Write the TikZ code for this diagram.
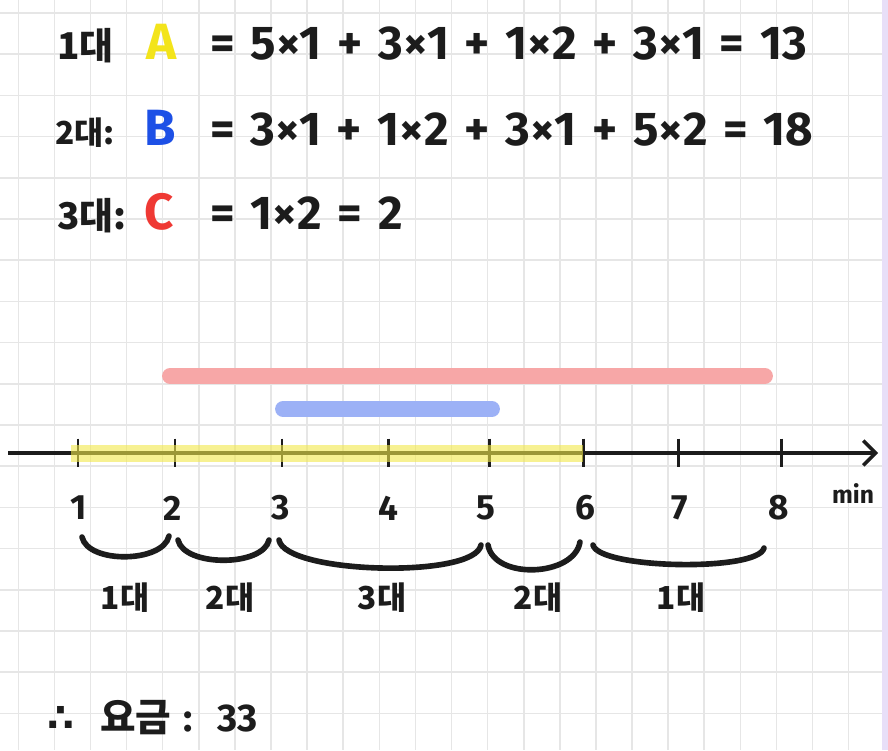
\documentclass[tikz,border=0pt]{standalone}
\usepackage{fontspec}
\usepackage{tikz}
\usetikzlibrary{arrows.meta,positioning,calc}
\setmainfont{Fira Sans}
\newfontfamily\krfont{Noto Sans CJK KR}
\newfontfamily\symfont{DejaVu Sans}
\definecolor{gridln}{HTML}{E6E6E6}
\definecolor{pagerim}{HTML}{E8DFF8}
\definecolor{ink}{HTML}{1C1C1C}
\definecolor{penA}{HTML}{F3E41B}
\definecolor{penB}{HTML}{1D50E6}
\definecolor{penC}{HTML}{EF3934}
\definecolor{barC}{HTML}{F7A7A7}
\definecolor{barB}{HTML}{9CB1F6}
\definecolor{barA}{HTML}{F2E94A}
\newcommand{\kr}[1]{{\krfont\bfseries #1}}
\newcommand{\widesp}{\spaceskip=9pt plus 2pt\relax}

\begin{document}
\begin{tikzpicture}[x=0.02cm,y=-0.02cm,
    eqtext/.style={text=ink,font=\fontsize{27}{30}\selectfont\bfseries\widesp,inner sep=0pt,anchor=base west},
    rowlbl/.style={text=ink,font=\fontsize{21}{24}\selectfont\krfont\bfseries,inner sep=0pt,anchor=base west},
    rowkey/.style={font=\fontsize{29}{32}\selectfont\bfseries,inner sep=0pt,anchor=base west},
    numlbl/.style={text=ink,font=\fontsize{20}{22}\selectfont\bfseries,inner sep=0pt},
    spanlbl/.style={text=ink,font=\fontsize{18}{22}\selectfont\krfont\bfseries,inner sep=0pt},
    sumlbl/.style={text=ink,font=\fontsize{22}{24}\selectfont\bfseries,inner sep=0pt,anchor=base west},
    tickmark/.style={minimum height=16pt,minimum width=0pt,inner sep=0pt},
    tick/.style={draw=ink,line width=1.7pt},
    brace/.style={draw=ink,line width=3.2pt,line cap=round},
    bar/.style={line width=9pt,line cap=round}]
  \useasboundingbox (0,0) rectangle (888,750);
  \fill[white] (0,0) rectangle (888,750);
  \fill[pagerim] (882,0) rectangle (888,750);
  % grid paper
  \foreach \i in {0,...,23}
    \draw[gridln,line width=0.9pt] ({18.3+36.1*\i},0) -- ++(0,750);
  \foreach \j in {0,...,17}
    \draw[gridln,line width=0.9pt] (0,{13+41.2*\j}) -- (882,{13+41.2*\j});

  % the three rows
  \node[rowlbl] (lblA) at (57,60) {1대};
  \node[rowkey,text=penA] (keyA) at (146,60) {A};
  \node[eqtext] (eqA) at (210,60) {= 5×1 + 3×1 + 1×2 + 3×1 = 13};
  \node[rowlbl,font=\fontsize{18}{20}\selectfont\krfont\bfseries] (lblB) at (55,144) {2대:};
  \node[rowkey,text=penB] (keyB) at (144,145) {B};
  \node[eqtext] (eqB) at (210,145) {= 3×1 + 1×2 + 3×1 + 5×2 = 18};
  \node[rowlbl] (lblC) at (57,229) {3대:};
  \node[rowkey,text=penC] (keyC) at (144,229) {C};
  \node[eqtext] (eqC) at (210,229) {= 1×2 = 2};

  % busy bars
  \coordinate (cL) at (170,376); \coordinate (cR) at (765,376);
  \coordinate (bL) at (283,409); \coordinate (bR) at (492,409);
  \draw[bar,barC] (cL) -- (cR);
  \draw[bar,barB] (bL) -- (bR);

  % time axis
  \coordinate (axL) at (8,453);
  \coordinate (axR) at (878,453);
  \draw[ink,line width=2.2pt,-{Straight Barb[length=7pt,width=14pt,line width=2pt]}] (axL) -- (axR);
  \foreach \n/\x in {1/78,2/175,3/282,4/388,5/489,6/583,7/678,8/781} {
    \node[tickmark] (t\n) at (\x,453) {};
    \draw[tick] (t\n.north) -- (t\n.south);
  }
  \fill[barA,opacity=0.6] (71,445) rectangle (583,462);
  \foreach \n/\x in {1/79,2/173,3/281,4/388,5/486,6/585,7/680,8/779}
    \node[numlbl] (v\n) at (\x,508) {\n};
  \node[numlbl,font=\fontsize{14}{16}\selectfont\bfseries] (unit) at (853,494) {min};

  % spans
  \foreach \i/\xa/\ya/\xb/\yb/\d in {1/82/537/169/536/27, 2/178/540/269/540/27,
      3/279/540/481/545/34, 4/488/545/580/542/35, 5/593/545/764/548/24} {
    \coordinate (s\i) at (\xa,\ya);
    \coordinate (e\i) at (\xb,\yb);
    \draw[brace] (s\i) .. controls +(6,\d) and +(-6,\d) .. (e\i);
  }
  \foreach \i/\x/\t in {1/125/1대, 2/230/2대, 3/382/3대, 4/538/2대, 5/681/1대}
    \node[spanlbl] (k\i) at (\x,598) {\t};

  % total
  \node[sumlbl] (thus) at (47,731) {\symfont ∴};
  \node[sumlbl] (fee) at (100,731) {\kr{요금}\hspace{7pt}:\hspace{14pt}33};
\end{tikzpicture}
\end{document}
